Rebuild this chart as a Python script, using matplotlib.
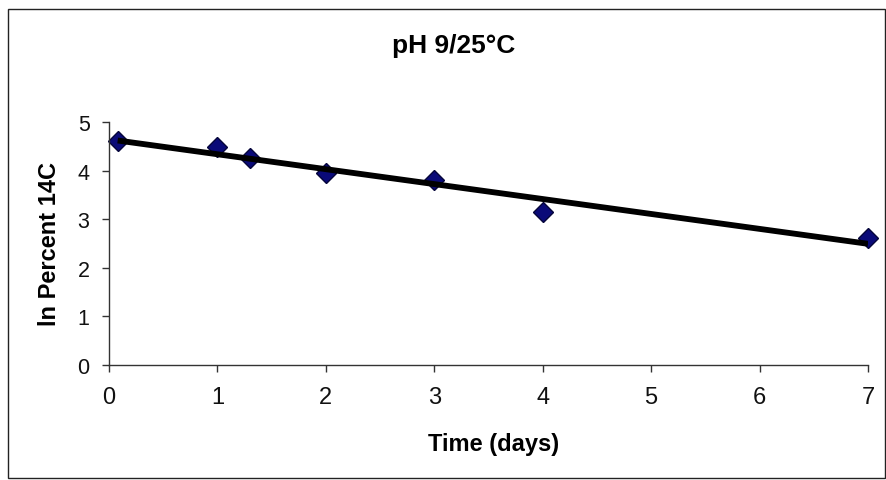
import numpy as np
import matplotlib
matplotlib.use('Agg')
import matplotlib.pyplot as plt
from matplotlib.patches import Rectangle

# data
time_days = [0.08, 1.0, 1.3, 2.0, 3.0, 4.0, 7.0]
ln_pct = [4.61, 4.48, 4.25, 3.96, 3.80, 3.15, 2.61]
xticks = [0, 1, 2, 3, 4, 5, 6, 7]
yticks = [0, 1, 2, 3, 4, 5]

plt.rcParams['font.family'] = ['Liberation Sans', 'DejaVu Sans']

fig = plt.figure(figsize=(8.87, 4.81), dpi=100)
fig.patches.append(Rectangle((8/887, 1-479/481), 877/887, 469/481,
                             transform=fig.transFigure, fill=False,
                             edgecolor='#222222', linewidth=1.0))

ax = fig.add_axes([109/887, 1-366/481, 759/887, 243/481])

# linear trendline
k, b = np.polyfit(time_days, ln_pct, 1)
xs = np.array([min(time_days), max(time_days)])
ax.plot(time_days, ln_pct, linestyle='none', marker='D', markersize=10,
        markerfacecolor='#0a0a78', markeredgecolor='#05053a', zorder=2,
        clip_on=False)
ax.plot(xs, k*xs + b, color='black', linewidth=4.2, solid_capstyle='butt',
        zorder=3)

ax.set_xlim(0, 7)
ax.set_ylim(0, 5)
ax.set_xticks(xticks)
ax.set_yticks(yticks)
ax.spines['top'].set_visible(False)
ax.spines['right'].set_visible(False)
for s in ['left', 'bottom']:
    ax.spines[s].set_linewidth(1.0)
    ax.spines[s].set_color('#333333')
ax.tick_params(axis='x', direction='out', length=5, width=1, labelsize=17,
               pad=10, color='#333333', labelcolor='#111111')
ax.tick_params(axis='y', direction='out', length=5, width=1, labelsize=15.5,
               pad=9, color='#333333', labelcolor='#111111')

ax.set_xlabel('Time (days)', fontsize=17, fontweight='bold', va='center')
ax.xaxis.set_label_coords(0.507, -0.321)
ax.set_ylabel('ln Percent 14C', fontsize=17, fontweight='bold', va='center')
ax.yaxis.set_label_coords(-0.079, 0.5)

fig.text(454/887, 1-46/481, 'pH 9/25°C', fontsize=19, fontweight='bold',
         ha='center', va='center')

fig.savefig('out.png', dpi=100)
